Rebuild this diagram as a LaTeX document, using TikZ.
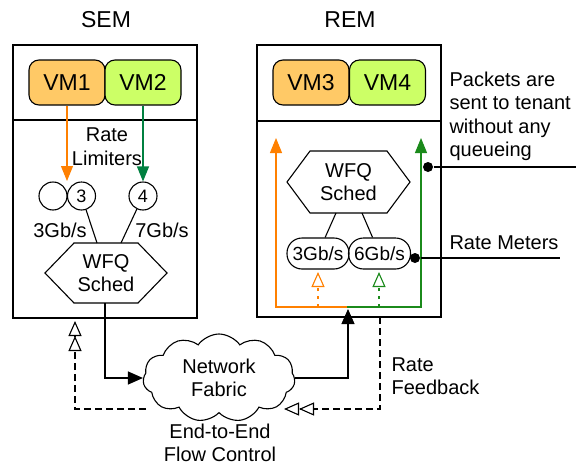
\documentclass[tikz,border=0pt]{standalone}
\usepackage{fontspec}
\setmainfont{Liberation Sans}
\usetikzlibrary{arrows.meta,shapes.symbols,calc}
\definecolor{vmorange}{HTML}{FFC966}
\definecolor{vmgreen}{HTML}{CCFF66}
\definecolor{aorange}{HTML}{FF8000}
\definecolor{semgreen}{HTML}{008040}
\definecolor{remgreen}{HTML}{1B8A1B}
\begin{document}
\begin{tikzpicture}[x=1pt,y=-1pt, line width=1.1pt,
  every node/.style={font=\fontsize{20}{23.5}\selectfont, inner sep=0pt},
  titletext/.style={font=\fontsize{23}{27}\selectfont},
  vmbox/.style={draw, rounded corners=10pt, minimum width=76pt, minimum height=45pt, font=\fontsize{23}{27}\selectfont},
  lim/.style={draw, circle, minimum size=28pt, font=\fontsize{18}{20}\selectfont},
  meter/.style={draw, rounded corners=15pt, minimum width=62pt, minimum height=31pt, font=\fontsize{19}{22}\selectfont},
  dotnode/.style={circle, fill=black, minimum size=10pt},
  arr/.style={-{Triangle[length=15pt,width=13pt]}},
  oarr/.style={-{Triangle[length=15pt,width=12pt]}},
  openarr/.style={-{Triangle[open,fill=white,length=15pt,width=13pt]}},
  dblopen/.style={-{Triangle[open,fill=white,length=15pt,width=13pt] Triangle[open,fill=white,length=15pt,width=13pt]}},
  fb/.style={dash pattern=on 7pt off 4pt},
  dotl/.style={dash pattern=on 3pt off 5pt}
]
\useasboundingbox (0,0) rectangle (576,466);

% titles
\node[titletext] (semt) at (106,20) {SEM};
\node[titletext] (remt) at (350,20) {REM};

% boxes
\draw (13,45) rectangle (197,318);
\draw (13,120) -- (197,120);
\draw (257,45) rectangle (441,317);
\draw (257,121) -- (441,121);

% VMs
\node[vmbox, fill=vmorange] (vm1) at (67,82.5) {VM1};
\node[vmbox, fill=vmgreen] (vm2) at (143,82.5) {VM2};
\node[vmbox, fill=vmorange] (vm3) at (311,82.5) {VM3};
\node[vmbox, fill=vmgreen] (vm4) at (387.5,82.5) {VM4};

% SEM internals
\node (rl) at (107,146.5) [align=center] {Rate\\Limiters};
\node[lim] (c0) at (53,196) {};
\node[lim] (c3) at (81.5,196) {3};
\node[lim] (c4) at (143,196) {4};
\coordinate (lim3) at (67,181);
\draw[aorange, oarr] (vm1.south) -- (lim3);
\draw[semgreen, oarr] (vm2.south) -- (c4.north);
\node (r3) at (60,230) {3Gb/s};
\node (r7) at (162,230) {7Gb/s};

\node (h1) at (106,273) [align=center] {WFQ\\Sched};
\draw ($(h1)+(-61,0)$) -- ($(h1)+(-32,-30)$) -- ($(h1)+(32,-30)$) -- ($(h1)+(61,0)$)
      -- ($(h1)+(32,30)$) -- ($(h1)+(-32,30)$) -- cycle;
\coordinate (h1a) at (97,243);
\coordinate (h1b) at (121,243);
\coordinate (h1out) at (105,303);
\draw (c3) -- (h1a);
\draw (c4) -- (h1b);

% REM internals
\node (h2) at (348.5,182) [align=center] {WFQ\\Sched};
\draw ($(h2)+(-61.5,0)$) -- ($(h2)+(-38.5,-31)$) -- ($(h2)+(38.5,-31)$) -- ($(h2)+(61.5,0)$)
      -- ($(h2)+(38.5,31)$) -- ($(h2)+(-38.5,31)$) -- cycle;
\node[meter] (m3) at (318,253.5) {3Gb/s};
\node[meter] (m6) at (379.5,253.5) {6Gb/s};
\coordinate (h2a) at (336,213);
\coordinate (h2b) at (362,213);
\draw (h2a) -- (m3);
\draw (h2b) -- (m6);

\coordinate (join) at (347,307);
\coordinate (otop) at (276,138);
\coordinate (gtop) at (421,138);
\draw[aorange, oarr] (join) -| (otop);
\draw[remgreen, oarr] (join) -| (gtop);
\coordinate (ob) at (318,307);
\coordinate (gb) at (379,307);
\coordinate (ot) at (318,272);
\coordinate (gt) at (379,272);
\draw[aorange, dotl, openarr] (ob) -- (ot);
\draw[remgreen, dotl, openarr] (gb) -- (gt);

% right annotations
\node[dotnode] (d1) at (428,167) {};
\coordinate (e1) at (576,167);
\draw (d1) -- (e1);
\node[anchor=west, align=left] (pk) at (449,116.5) {Packets are\\sent to tenant\\without any\\queueing};
\node[dotnode] (d2) at (415,258) {};
\coordinate (e2) at (560,258);
\draw (d2) -- (e2);
\node[anchor=west] (rm) at (449,243) {Rate Meters};

% network fabric
\node[cloud, draw, cloud puffs=11, cloud puff arc=110, aspect=1.8, minimum width=152pt, minimum height=88pt, align=center] (cl) at (219,378) {Network\\Fabric};
\draw[arr] (h1out) |- (cl);
\coordinate (remin) at (348,309);
\draw[arr] (cl) -| (remin);

% feedback
\coordinate (rfb) at (380,317);
\coordinate (clfb) at (284,409);
\draw[fb, dblopen] (rfb) |- (clfb);
\coordinate (clfl) at (146,409);
\coordinate (semin) at (75,321);
\draw[fb, dblopen] (clfl) -| (semin);
\node[anchor=west, align=left] (rf) at (391,376) {Rate\\Feedback};
\node[align=center] (e2e) at (220,443) {End-to-End\\Flow Control};
\end{tikzpicture}
\end{document}
